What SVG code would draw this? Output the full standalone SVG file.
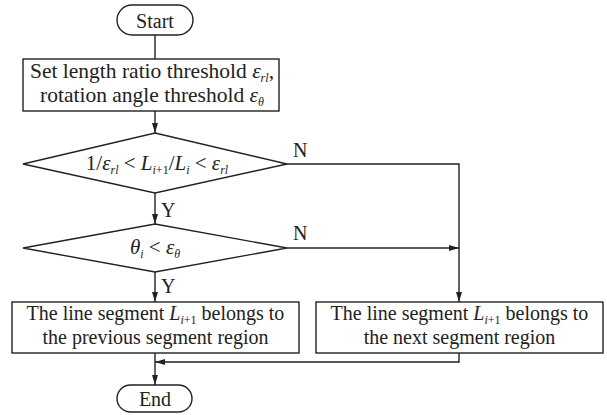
<svg xmlns="http://www.w3.org/2000/svg" width="607" height="415" viewBox="0 0 607 415">
<style>
.s{fill:none;stroke:#222;stroke-width:1.4}
.b{fill:#fff;stroke:#222;stroke-width:1.4}
text{font-family:"Liberation Serif","Times New Roman",serif;font-size:20px;fill:#222}
.c{text-anchor:middle}
.i{font-style:italic}
.sub{font-size:12px;font-style:italic}
.big{font-size:21.5px}
.m{font-size:21px}
</style>
<defs>
<marker id="ah" viewBox="0 0 10 6" refX="10" refY="3" markerWidth="10" markerHeight="6" markerUnits="userSpaceOnUse" orient="auto">
<path d="M0,0 L10,3 L0,6 Z" fill="#222"/>
</marker>
</defs>
<g id="connectors">
<line class="s" x1="155" y1="35" x2="155" y2="59"/>
<line class="s" x1="155" y1="111" x2="155" y2="133" marker-end="url(#ah)"/>
<line class="s" x1="155" y1="193" x2="155" y2="224" marker-end="url(#ah)"/>
<line class="s" x1="155" y1="272" x2="155" y2="302" marker-end="url(#ah)"/>
<polyline class="s" points="287,164 459,164 459,302" marker-end="url(#ah)"/>
<line class="s" x1="287" y1="248" x2="459" y2="248" marker-end="url(#ah)"/>
<polyline class="s" points="459,353 459,362 155,362" marker-end="url(#ah)"/>
<line class="s" x1="155" y1="353" x2="155" y2="385" marker-end="url(#ah)"/>
<text x="293" y="157">N</text>
<text x="293" y="240">N</text>
<text x="161" y="217">Y</text>
<text x="161" y="293">Y</text>
</g>
<g id="start">
<rect class="b" x="117" y="5" width="76" height="30" rx="15"/>
<text class="c" x="155" y="28">Start</text>
</g>
<g id="set">
<rect class="b" x="23" y="59" width="256" height="52"/>
<text class="c big" x="152" y="78">Set length ratio threshold <tspan class="i">ε</tspan><tspan class="sub" dy="4">rl</tspan><tspan dy="-4">,</tspan></text>
<text class="c big" x="152" y="102">rotation angle threshold <tspan class="i">ε</tspan><tspan class="sub" dy="4">θ</tspan></text>
</g>
<g id="cond1">
<polygon class="b" points="155,133 287,164 155,193 23,164"/>
<text class="c m" x="157" y="170">1/<tspan class="i">ε</tspan><tspan class="sub" dy="4">rl</tspan><tspan dy="-4"> &lt; </tspan><tspan class="i">L</tspan><tspan class="sub" dy="4">i</tspan><tspan font-size="12px">+1</tspan><tspan dy="-4">/</tspan><tspan class="i">L</tspan><tspan class="sub" dy="4">i</tspan><tspan dy="-4"> &lt; </tspan><tspan class="i">ε</tspan><tspan class="sub" dy="4">rl</tspan></text>
</g>
<g id="cond2">
<polygon class="b" points="155,224 287,248 155,272 23,248"/>
<text class="c m" x="155" y="254"><tspan class="i">θ</tspan><tspan class="sub" dy="4">i</tspan><tspan dy="-4"> &lt; </tspan><tspan class="i">ε</tspan><tspan class="sub" dy="4">θ</tspan></text>
</g>
<g id="prev">
<rect class="b" x="12" y="302" width="287" height="51"/>
<text class="c" x="155.5" y="320">The line segment <tspan class="i">L</tspan><tspan class="sub" dy="4">i</tspan><tspan font-size="12px">+1</tspan><tspan dy="-4"> belongs to</tspan></text>
<text class="c" x="155.5" y="344">the previous segment region</text>
</g>
<g id="next">
<rect class="b" x="316" y="302" width="287" height="51"/>
<text class="c" x="459.5" y="320">The line segment <tspan class="i">L</tspan><tspan class="sub" dy="4">i</tspan><tspan font-size="12px">+1</tspan><tspan dy="-4"> belongs to</tspan></text>
<text class="c" x="459.5" y="344">the next segment region</text>
</g>
<g id="end">
<rect class="b" x="117" y="385" width="75" height="27" rx="13.5"/>
<text class="c" x="155" y="406">End</text>
</g>
</svg>
